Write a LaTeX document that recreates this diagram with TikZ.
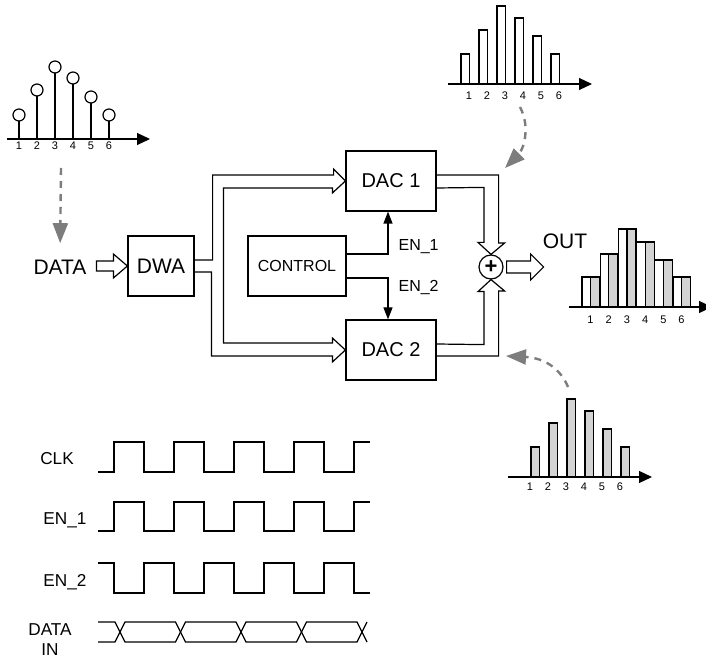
\documentclass[tikz,border=0pt]{standalone}
\usepackage{fontspec}
\setmainfont{Liberation Sans}
\usetikzlibrary{arrows.meta}
\definecolor{barfill}{RGB}{211,211,211}
\definecolor{hintgray}{RGB}{125,125,125}

\begin{document}
\begin{tikzpicture}[>={Triangle[length=6pt,width=4.5pt]}, x=0.5pt, y=-0.5pt, line width=0.6pt]
    \tikzstyle{block} = [draw, minimum height=30pt, inner sep=0pt,
	font=\fontsize{10}{12}\selectfont]
	\tikzstyle{big} = [font=\fontsize{10.5}{12}\selectfont, inner sep=1pt]
	\tikzstyle{small} = [font=\fontsize{8}{10}\selectfont, inner sep=1pt]
	\tikzstyle{sig} = [font=\fontsize{8.6}{10}\selectfont, inner sep=1pt]
	\tikzstyle{tick} = [font=\fontsize{5.5}{6}\selectfont, inner sep=0pt]
	\tikzstyle{axis} = [-{Triangle[length=6.5pt,width=6pt]}]
	\tikzstyle{hint} = [draw=hintgray, line width=1.2pt, dash pattern=on 3.5pt off 3pt,
	-{Triangle[length=10pt,width=7.5pt]}]

	\useasboundingbox (0,0) rectangle (706,657);

	\begin{scope}
		\node[block, minimum width=33pt, big] (dwa) at (161,266) {DWA};
		\node[block, minimum width=49pt, font=\fontsize{8}{10}\selectfont] (ctrl) at (297,266) {CONTROL};
		\node[block, minimum width=45pt] (dac1) at (391,181) {DAC 1};
		\node[block, minimum width=45pt] (dac2) at (391,350) {DAC 2};
		\node[draw, circle, minimum size=12pt, inner sep=0pt,
			font=\fontsize{11}{12}\selectfont\bfseries] (sum) at (491,267) {+};
		\node[big] (data) at (60,267) {DATA};
		\node[big] (out) at (565,241) {OUT};
		\node[small, anchor=west] (en1) at (396,247) {EN\_1};
		\node[small, anchor=west] (en2) at (396,288) {EN\_2};

		% input and output
		\draw (dwa.west) -- ++(-14,-12) -- ++(0,7) -- ++(-17,0) -- ++(0,10)
			-- ++(17,0) -- ++(0,7) -- cycle;
		\draw (sum.east) ++(3,-6) -- ++(24,0) -- ++(0,-7) -- ++(13,13)
			-- ++(-13,13) -- ++(0,-7) -- ++(-24,0) -- cycle;

		% bus DWA -> DAC 1, DAC 2
		\draw ([yshift=3pt]dwa.east) -- ++(18,0) -- ++(0,-85) -- ++(121,0) -- ++(0,-6)
			-- (dac1.west) -- ++(-13,12) -- ++(0,-5) -- ++(-109,0) -- ++(0,155)
			-- ++(109,0) -- ++(0,-5) -- (dac2.west) -- ++(-13,12) -- ++(0,-6)
			-- ++(-121,0) -- ++(0,-84) -- ([yshift=-3pt]dwa.east);
		% DAC 1, DAC 2 -> sum
		\draw ([yshift=3pt]dac1.east) -- ++(62,0) -- ++(0,68) -- ++(6,0) -- (sum.north)
			-- ++(-13,-12) -- ++(6,0) -- ++(0,-55) -- ([yshift=-3.5pt]dac1.east);
		\draw ([yshift=-3pt]dac2.east) -- ++(62,0) -- ++(0,-65) -- ++(6,0) -- (sum.south)
			-- ++(-13,12) -- ++(6,0) -- ++(0,53) -- ([yshift=3pt]dac2.east);

		\draw[->] ([yshift=6pt]ctrl.east) -| ([xshift=-1.5pt]dac1.south);
		\draw[->] ([yshift=-6pt]ctrl.east) -| ([xshift=-1.5pt]dac2.north);
	\end{scope}

	% input samples
	\begin{scope}
		\draw[axis] (7,139) -- (150,139);
		\foreach \i/\h in {1/24,2/49,3/72,4/61,5/42,6/24} {
			\draw ({1+18*\i},139) -- ({1+18*\i},{139-\h+6});
			\draw ({1+18*\i},{139-\h}) circle[radius=3pt];
			\node[tick] (s\i) at ({1+18*\i},146) {\i};
		}
		\coordinate (h1) at (61,168);
		\draw[hint, shorten >=7pt] (h1) -- (data.north);
	\end{scope}

	% DAC 1 output
	\begin{scope}
		\draw[axis] (448,84) -- (592,84);
		\foreach \i/\h in {1/30,2/54,3/78,4/66,5/48,6/30} {
			\draw[fill=white] ({443+18*\i},84) rectangle ++(8.5,-\h);
			\node[tick] (t\i) at ({451+18*\i},96) {\i};
		}
		\coordinate (h2) at (520,107);
		\coordinate (h2e) at (505,168);
		\draw[hint] (h2) .. controls (531,128) and (523,150) .. (h2e);
	\end{scope}

	% DAC 2 output
	\begin{scope}
		\draw[axis] (508,477) -- (652,477);
		\foreach \i/\h in {1/30,2/54,3/78,4/66,5/48,6/30} {
			\draw[fill=barfill] ({513+18*\i},477) rectangle ++(8.5,-\h);
			\node[tick] (b\i) at ({512+18*\i},487) {\i};
		}
		\coordinate (h3) at (568,387);
		\coordinate (h3e) at (506,356);
		\draw[hint] (h3) .. controls (561,370) and (546,358) .. (h3e);
	\end{scope}

	% OUT
	\begin{scope}
		\draw[axis] (569,307) -- (712,307);
		\foreach \i/\h/\g in {1/30/30,2/53/53,3/78/78,4/65/65,5/47/47,6/30/30} {
			\draw[fill=white] ({563.8+18.2*\i},307) rectangle ++(8.5,-\h);
			\draw[fill=barfill] ({572.3+18.2*\i},307) rectangle ++(9,-\g);
			\node[tick] (o\i) at ({572.3+18.2*\i},320) {\i};
		}
	\end{scope}

	% timing
	\begin{scope}
		\node[sig] (clk) at (57,459) {CLK};
		\node[sig] (e1) at (65,520) {EN\_1};
		\node[sig] (e2) at (65,582) {EN\_2};
		\node[sig, align=center] (din) at (50,640) {DATA\\IN};

		\draw (98,472) foreach \k in {0,...,3} { -- ({114+60*\k},472) -- ++(0,-30) -- ++(30,0) -- ++(0,30) }
			-- (354,472) -- ++(0,-30) -- (370,442);
		\draw (98,531) foreach \k in {0,...,3} { -- ({114+60*\k},531) -- ++(0,-29) -- ++(30,0) -- ++(0,29) }
			-- (354,531) -- ++(0,-29) -- (370,502);
		\draw (98,563) foreach \k in {0,...,3} { -- ({114+60*\k},563) -- ++(0,30) -- ++(30,0) -- ++(0,-30) }
			-- (354,563) -- ++(0,30) -- (370,593);

		\draw (98,622) -- (115,622) -- (120,632) -- (115,642) -- (98,642);
		\foreach \k in {0,...,3}
			\draw ({120+60.5*\k},632) -- ++(5,-10) -- ({175.5+60.5*\k},622) -- ++(5,10)
				-- ++(-5,10) -- ({125+60.5*\k},642) -- cycle;
		\draw (367,622) -- (362,632) -- (367,642);
	\end{scope}

\end{tikzpicture}
\end{document}
